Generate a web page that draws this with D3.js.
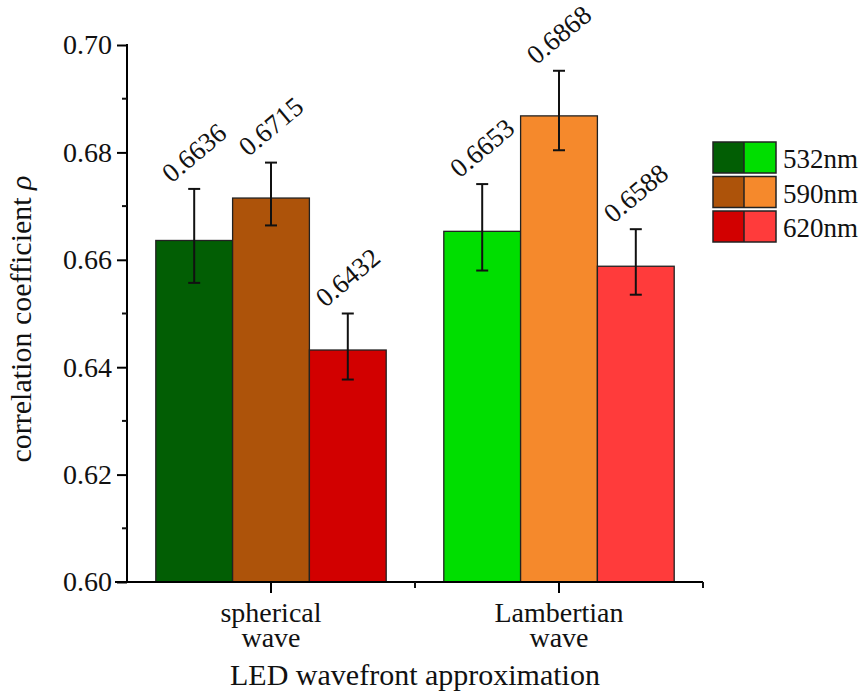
<!doctype html>
<html>
<head>
<meta charset="utf-8">
<title>correlation coefficient</title>
<script src="https://cdn.jsdelivr.net/npm/d3@7"></script>
<style>
  body { margin: 0; background: #fff; }
  svg text { font-family: "Liberation Serif", "Times New Roman", serif; fill: #111; }
</style>
</head>
<body>
<svg id="chart" width="864" height="693"></svg>
<script>
// data
var groups = ["spherical wave", "Lambertian wave"];
var series = ["532nm", "590nm", "620nm"];
var sphericalValues = [0.6636, 0.6715, 0.6432];
var lambertianValues = [0.6653, 0.6868, 0.6588];
var sphericalErrUp = [0.0096, 0.0066, 0.0068];
var sphericalErrDown = [0.0079, 0.0051, 0.0055];
var lambertianErrUp = [0.0088, 0.0084, 0.0069];
var lambertianErrDown = [0.0073, 0.0064, 0.0053];
var sphericalColors = ["#025e04", "#ad530a", "#d20000"];
var lambertianColors = ["#00de00", "#f5892c", "#ff3b3b"];
var yTicks = [0.60, 0.62, 0.64, 0.66, 0.68, 0.70];

var rows = [];
groups.forEach(function(g, gi) {
  var vals = gi === 0 ? sphericalValues : lambertianValues;
  var up = gi === 0 ? sphericalErrUp : lambertianErrUp;
  var dn = gi === 0 ? sphericalErrDown : lambertianErrDown;
  var cols = gi === 0 ? sphericalColors : lambertianColors;
  series.forEach(function(s, si) {
    rows.push({group: g, series: s, value: vals[si], up: up[si], down: dn[si], color: cols[si]});
  });
});

var svg = d3.select("#chart");
var mLeft = 127, mRight = 703, mTop = 45, mBottom = 582;

var x0 = d3.scaleBand().domain(groups).range([mLeft, mRight]).paddingInner(0).paddingOuter(0);
var x1 = d3.scaleBand().domain(series).range([0, x0.bandwidth()]).paddingOuter(0.375).paddingInner(0);
var y = d3.scaleLinear().domain([0.60, 0.70]).range([mBottom, mTop]);

// bars
svg.append("g").selectAll("rect")
  .data(rows).enter().append("rect")
  .attr("x", function(d) { return x0(d.group) + x1(d.series); })
  .attr("y", function(d) { return y(d.value); })
  .attr("width", x1.bandwidth())
  .attr("height", function(d) { return mBottom - y(d.value); })
  .attr("fill", function(d) { return d.color; })
  .attr("stroke", "#222")
  .attr("stroke-width", 1.3);

// error bars
var eb = svg.append("g").attr("stroke", "#111").attr("stroke-width", 2);
rows.forEach(function(d) {
  var cx = x0(d.group) + x1(d.series) + x1.bandwidth() / 2;
  var y1 = y(d.value + d.up), y2 = y(d.value - d.down);
  eb.append("line").attr("x1", cx).attr("x2", cx).attr("y1", y1).attr("y2", y2);
  eb.append("line").attr("x1", cx - 6).attr("x2", cx + 6).attr("y1", y1).attr("y2", y1);
  eb.append("line").attr("x1", cx - 6).attr("x2", cx + 6).attr("y1", y2).attr("y2", y2);
});

// value labels
svg.append("g").selectAll("text")
  .data(rows).enter().append("text")
  .attr("transform", function(d) {
    var cx = x0(d.group) + x1(d.series) + x1.bandwidth() / 2;
    var cy = y(d.value + d.up) - 36;
    return "translate(" + cx + "," + cy + ") rotate(-40)";
  })
  .attr("text-anchor", "middle")
  .attr("dominant-baseline", "central")
  .style("font-size", "27px")
  .text(function(d) { return d3.format(".4f")(d.value); });

// y axis
var yAxis = svg.append("g").attr("transform", "translate(" + mLeft + ",0)")
  .call(d3.axisLeft(y).tickValues(yTicks).tickFormat(d3.format(".2f")).tickSize(10).tickPadding(5));
yAxis.selectAll("text").style("font-size", "28px");
yAxis.select(".domain").attr("stroke-width", 2).attr("d", "M0," + (mTop - 1) + "V" + (mBottom + 1));
yAxis.selectAll(".tick line").attr("stroke-width", 2);
svg.append("g").selectAll("line")
  .data(d3.range(0.61, 0.70, 0.02)).enter().append("line")
  .attr("x1", mLeft - 5).attr("x2", mLeft)
  .attr("y1", function(d) { return y(d); }).attr("y2", function(d) { return y(d); })
  .attr("stroke", "#111").attr("stroke-width", 2);

// x axis
var xAxis = svg.append("g").attr("transform", "translate(0," + mBottom + ")")
  .call(d3.axisBottom(x0).tickSize(11).tickFormat(""));
xAxis.select(".domain").attr("stroke-width", 2).attr("d", "M" + (mLeft - 12) + ",0H" + mRight);
xAxis.selectAll(".tick line").attr("stroke-width", 2);
svg.append("g").selectAll("line")
  .data([x0(groups[1]), mRight]).enter().append("line")
  .attr("x1", function(d) { return d; }).attr("x2", function(d) { return d; })
  .attr("y1", mBottom).attr("y2", mBottom + 6)
  .attr("stroke", "#111").attr("stroke-width", 2);

// category labels, two lines
svg.append("g").selectAll("text")
  .data(groups).enter().append("text")
  .attr("y", 622)
  .attr("text-anchor", "middle")
  .style("font-size", "28px")
  .each(function(d) {
    var parts = d.split(" ");
    var cx = x0(d) + x0.bandwidth() / 2;
    var t = d3.select(this);
    t.append("tspan").attr("x", cx).text(parts[0]);
    t.append("tspan").attr("x", cx).attr("dy", 25).text(parts[1]);
  });

// axis titles
svg.append("text")
  .attr("x", (mLeft + mRight) / 2).attr("y", 685)
  .attr("text-anchor", "middle")
  .style("font-size", "30px")
  .text("LED wavefront approximation");

var yt = svg.append("text")
  .attr("transform", "translate(31,319) rotate(-90)")
  .attr("text-anchor", "middle")
  .style("font-size", "30px");
yt.append("tspan").text("correlation coefficient ");
yt.append("tspan").style("font-style", "italic").text("ρ");

// legend
var lg = svg.append("g").attr("transform", "translate(713,142)");
series.forEach(function(s, i) {
  var row = lg.append("g").attr("transform", "translate(0," + (i * 34.5) + ")");
  row.append("rect").attr("width", 31).attr("height", 31).attr("fill", sphericalColors[i]);
  row.append("rect").attr("x", 31).attr("width", 32).attr("height", 31).attr("fill", lambertianColors[i]);
  row.append("rect").attr("width", 63).attr("height", 31).attr("fill", "none")
    .attr("stroke", "#222").attr("stroke-width", 1.5);
  row.append("line").attr("x1", 31).attr("x2", 31).attr("y1", 0).attr("y2", 31)
    .attr("stroke", "#222").attr("stroke-width", 1.5);
  row.append("text").attr("x", 70).attr("y", 17).attr("dominant-baseline", "central")
    .style("font-size", "27px").text(s);
});
</script>
</body>
</html>
